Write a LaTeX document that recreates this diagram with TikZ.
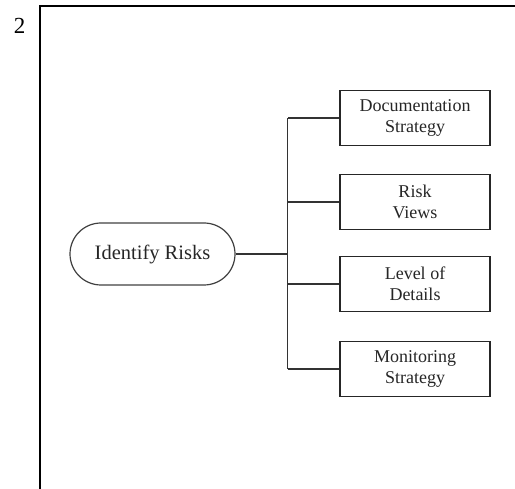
\documentclass[tikz,border=0pt]{standalone}
\usepackage{fontspec}
\setmainfont{Liberation Serif}
\begin{document}
\begin{tikzpicture}[x=1pt,y=-1pt,
  framestyle/.style={line width=2pt,draw=black},
  pill/.style={draw=black!75,line width=1.2pt,rounded corners=31pt,minimum width=165pt,minimum height=62pt,inner sep=0pt,font=\fontsize{20.5}{24}\selectfont,text=black!85},
  boxnode/.style={draw=black!85,line width=1.2pt,minimum width=150pt,minimum height=55pt,inner sep=0pt,align=center,font=\fontsize{18}{20.5}\selectfont,text=black!85},
  conn/.style={draw=black!80,line width=1.2pt}]
\useasboundingbox (0,0) rectangle (515,489);
\node (num) at (19.5,25.5) {\fontsize{23}{26}\selectfont 2};
\coordinate (fb) at (40,489);
\coordinate (fc) at (40,6);
\coordinate (fr) at (515,6);
\draw[framestyle] (fb) -- (fc) -- (fr);
\node[pill] (id) at (152.5,254) {Identify Risks};
\node[boxnode] (b1) at (415,118) {Documentation\\Strategy};
\node[boxnode] (b2) at (415,202) {Risk\\Views};
\node[boxnode] (b3) at (415,284) {Level of\\Details};
\node[boxnode] (b4) at (415,369) {Monitoring\\Strategy};
\coordinate (t1) at (287.5,118);
\coordinate (t4) at (287.5,369);
\draw[conn] (t1) -- (t4);
\draw[conn] (id.east) -- (id.east -| t1);
\draw[conn] (b1.west) -- (t1);
\draw[conn] (b2.west) -- (b2.west -| t1);
\draw[conn] (b3.west) -- (b3.west -| t1);
\draw[conn] (b4.west) -- (t4);
\end{tikzpicture}
\end{document}
